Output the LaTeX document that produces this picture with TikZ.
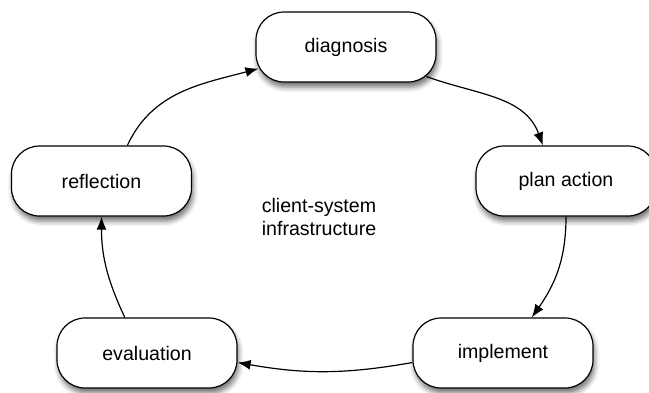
\documentclass[tikz,border=0pt]{standalone}
\usepackage{fontspec}
\setmainfont{Liberation Sans}
\usetikzlibrary{arrows.meta, shadows.blur}

\begin{document}
\begin{tikzpicture}[> = {Latex[length = 6.5pt, width = 5pt]}, x = 0.5pt, y = -0.5pt,
	font = \fontsize{9.8}{11.2}\selectfont,
	stage/.style = {draw, line width = 0.6pt, fill = white, rounded corners = 14pt,
		minimum width = 90pt, minimum height = 35pt, inner sep = 0pt,
		blur shadow = {shadow xshift = 0.8pt, shadow yshift = -2.6pt,
			shadow blur radius = 2.5pt, shadow opacity = 55}},
	link/.style = {->, line width = 0.6pt}]

\useasboundingbox (0, 0) rectangle (649, 392);

	% Stages of the cycle

	\node [stage] (diag) at (346, 47) {diagnosis};
	\node [stage] (plan) at (566, 181) {plan action};
	\node [stage] (impl) at (503, 353) {implement};
	\node [stage] (eval) at (147, 353) {evaluation};
	\node [stage] (refl) at (101.5, 181) {reflection};

	% Centre label

	\node [align = center] (infra) at (319, 217) {client-system\\infrastructure};

	% Cycle arrows

	\draw [link] ([xshift = -5pt, yshift = 3pt] diag.south east) to [out = -20, in = 110] (plan.123);
	\draw [link] (plan.south) to [out = -90, in = 55] (impl.51);
	\draw [link] (impl.186) to [out = 190, in = -10] (eval.-6);
	\draw [link] (eval.122) to [out = 115, in = -90] (refl.south);
	\draw [link] (refl.54) to [out = 65, in = 195] ([xshift = 1.5pt, yshift = 7pt] diag.south west);

\end{tikzpicture}
\end{document}
